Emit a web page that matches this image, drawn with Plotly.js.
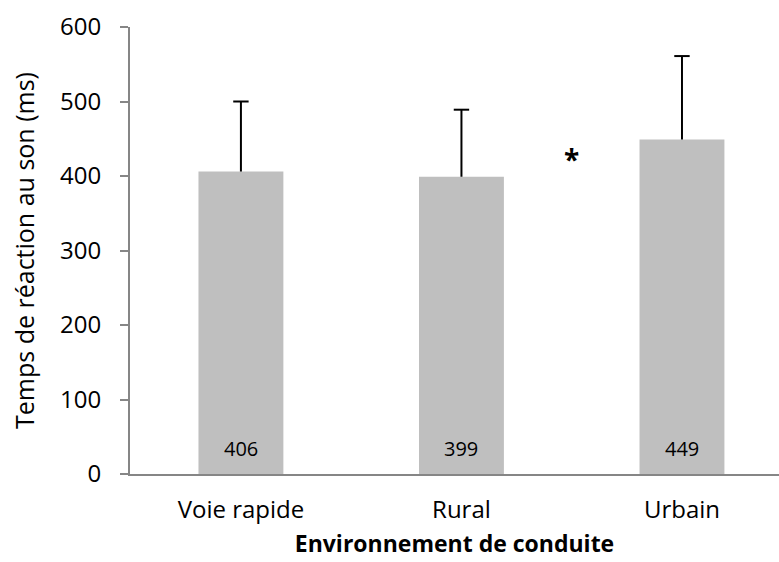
<!DOCTYPE html>
<html>
<head>
<meta charset="utf-8">
<script src="https://cdn.plot.ly/plotly-3.0.1.min.js"></script>
<style>html,body{margin:0;padding:0;background:#fff;}#chart{width:779px;height:562px;}</style>
</head>
<body>
<div id="chart"></div>
<script>
const categories = ["Voie rapide", "Rural", "Urbain"];
const meanRT = [406, 399, 449];
const sdRT = [94, 90, 112];
const yTicks = [0, 100, 200, 300, 400, 500, 600];
const sigLabel = "*";
const sigPosition = [1.5, 423];

const fontFam = "'Open Sans', 'Liberation Sans', sans-serif";
const xIdx = categories.map((c, i) => i);

const bars = {
  type: 'bar',
  x: xIdx,
  y: meanRT,
  width: 0.385,
  marker: {color: '#BFBFBF', line: {width: 0}},
  hoverinfo: 'none'
};

// one-sided (upward) error bars: stem from bar top to mean+sd
const stemX = [], stemY = [];
xIdx.forEach((x, i) => { stemX.push(x, x, null); stemY.push(meanRT[i], meanRT[i] + sdRT[i], null); });
const stems = {
  type: 'scatter', mode: 'lines', x: stemX, y: stemY,
  line: {color: '#000000', width: 2}, hoverinfo: 'none', cliponaxis: false
};
const caps = {
  type: 'scatter', mode: 'markers', x: xIdx, y: meanRT.map((m, i) => m + sdRT[i]),
  marker: {symbol: 'line-ew', size: 11, line: {color: '#000000', width: 2}},
  hoverinfo: 'none', cliponaxis: false
};

const valueLabels = meanRT.map((v, i) => ({
  x: xIdx[i], y: 0, xref: 'x', yref: 'y',
  text: String(v), showarrow: false, yanchor: 'middle', yshift: 26,
  font: {family: fontFam, size: 20, color: '#000000'}
}));

const layout = {
  width: 779, height: 562,
  margin: {l: 130, r: 0, t: 27, b: 88},
  paper_bgcolor: '#ffffff', plot_bgcolor: '#ffffff',
  showlegend: false,
  xaxis: {
    range: [-0.503, 2.44],
    tickmode: 'array', tickvals: xIdx, ticktext: categories,
    showline: true, linecolor: '#868686', linewidth: 2,
    ticks: '', showgrid: false, zeroline: false,
    ticklabelstandoff: 13,
    tickfont: {family: fontFam, size: 24, color: '#000000'},
    title: {text: '<b>Environnement de conduite</b>', font: {family: fontFam, size: 23, color: '#000000'}, standoff: 12}
  },
  yaxis: {
    range: [0, 600],
    tickmode: 'array', tickvals: yTicks,
    showline: true, linecolor: '#868686', linewidth: 2,
    ticks: 'outside', ticklen: 8, tickwidth: 2, tickcolor: '#868686',
    showgrid: false, zeroline: false,
    ticklabelstandoff: 14,
    tickfont: {family: fontFam, size: 24, color: '#000000'},
    title: {text: 'Temps de réaction au son (ms)', font: {family: fontFam, size: 25, color: '#000000'}, standoff: 18}
  },
  annotations: valueLabels.concat([{
    x: sigPosition[0], y: sigPosition[1], xref: 'x', yref: 'y',
    text: '<b>' + sigLabel + '</b>', showarrow: false,
    font: {family: fontFam, size: 28, color: '#000000'}
  }])
};

Plotly.newPlot('chart', [bars, stems, caps], layout, {displayModeBar: false, staticPlot: true});
</script>
</body>
</html>
